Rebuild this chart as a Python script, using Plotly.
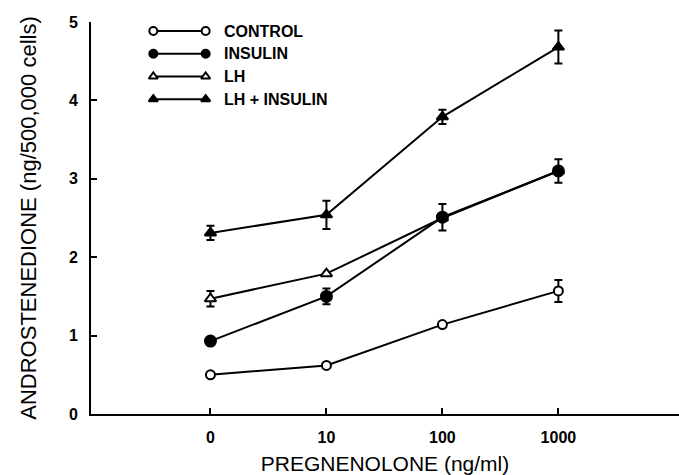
import plotly.graph_objects as go

# ---- data ----
doses = ["0", "10", "100", "1000"]
series_names = ["CONTROL", "INSULIN", "LH", "LH + INSULIN"]
control = [0.50, 0.62, 1.14, 1.57]
control_err = [0.0, 0.0, 0.0, 0.14]
insulin = [0.93, 1.50, 2.51, 3.10]
insulin_err = [0.0, 0.10, 0.17, 0.15]
lh = [1.47, 1.79, 2.50, 3.10]
lh_err = [0.10, 0.0, 0.0, 0.0]
lh_ins = [2.31, 2.54, 3.79, 4.68]
lh_ins_err = [0.09, 0.18, 0.09, 0.21]
y_ticks = [0, 1, 2, 3, 4, 5]

values = [control, insulin, lh, lh_ins]
errors = [control_err, insulin_err, lh_err, lh_ins_err]
symbols = ["circle", "circle", "triangle-up", "triangle-up"]
fills = ["white", "black", "white", "black"]
sizes = [9, 11, 10, 10]

FONT = "Liberation Sans"
xpos = list(range(len(doses)))

fig = go.Figure()
# draw LH before INSULIN so insulin sits on top at overlap
order = [0, 2, 1, 3]
for i in order:
    fig.add_trace(go.Scatter(
        x=xpos, y=values[i], mode="lines+markers", name=series_names[i],
        line=dict(color="black", width=2),
        marker=dict(symbol=symbols[i], size=sizes[i], color=fills[i],
                    line=dict(color="black", width=2)),
        error_y=dict(type="data", array=errors[i], visible=True,
                     color="black", thickness=2, width=4),
        showlegend=False,
    ))

# custom legend "o—o NAME"
leg_x0, leg_x1 = 0.106, 0.195   # paper fractions
leg_y_top = 0.977
leg_dy = 0.058
for k, name in enumerate(series_names):
    yy = leg_y_top - k * leg_dy
    fig.add_trace(go.Scatter(
        x=[leg_x0, leg_x1], y=[yy, yy], xaxis="x2", yaxis="y2",
        mode="lines+markers",
        line=dict(color="black", width=2),
        marker=dict(symbol=symbols[k], size=8, color=fills[k],
                    line=dict(color="black", width=2)),
        showlegend=False, hoverinfo="skip", cliponaxis=False,
    ))
    fig.add_annotation(x=leg_x1 + 0.027, y=yy, xref="paper", yref="paper",
                       text=f"<b>{name}</b>", showarrow=False, xanchor="left",
                       yanchor="middle", font=dict(family=FONT, size=16, color="black"))

fig.update_layout(
    width=679, height=475,
    margin=dict(l=91, r=0, t=22, b=61),
    paper_bgcolor="white", plot_bgcolor="white",
    font=dict(family=FONT, color="black"),
    xaxis=dict(
        range=[-1.03, 4.04], tickmode="array", tickvals=xpos, ticktext=doses,
        showline=True, linecolor="black", linewidth=2,
        ticks="inside", ticklen=6, tickwidth=2, tickcolor="black",
        showgrid=False, zeroline=False, automargin=False, ticklabelstandoff=8,
        tickfont=dict(family=FONT, size=16, color="black", weight="bold"),
        title=dict(text="PREGNENOLONE (ng/ml)", font=dict(family=FONT, size=21),
                   standoff=20),
    ),
    yaxis=dict(
        range=[0, 5], tickmode="array", tickvals=y_ticks,
        showline=True, linecolor="black", linewidth=2,
        ticks="inside", ticklen=6, tickwidth=2, tickcolor="black",
        showgrid=False, zeroline=False, ticklabelstandoff=8, automargin=False,
        tickfont=dict(family=FONT, size=16, color="black", weight="bold"),
        title=dict(text="ANDROSTENEDIONE (ng/500,000 cells)",
                   font=dict(family=FONT, size=22), standoff=26),
    ),
    xaxis2=dict(domain=[0, 1], range=[0, 1], overlaying="x", visible=False,
                anchor="y2"),
    yaxis2=dict(domain=[0, 1], range=[0, 1], overlaying="y", visible=False,
                anchor="x2"),
)

fig.write_html(
    "out.html",
    config={"displayModeBar": False},
    post_script="document.body.style.margin='0';document.body.style.overflow='hidden';",
)
